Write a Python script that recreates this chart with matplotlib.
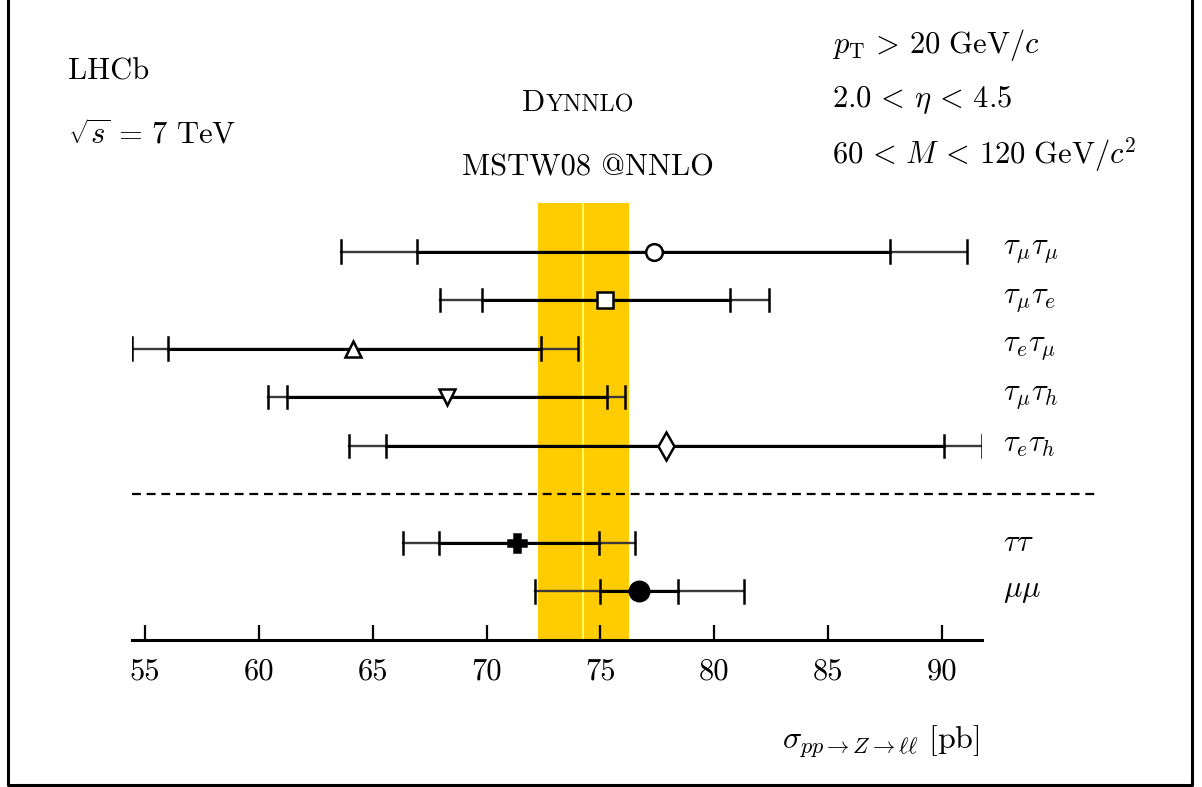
import matplotlib
matplotlib.use('Agg')
import matplotlib.pyplot as plt
from matplotlib.lines import Line2D

plt.rcParams['mathtext.fontset'] = 'cm'
plt.rcParams['font.family'] = 'serif'
plt.rcParams['font.serif'] = ['cmr10', 'DejaVu Serif']
plt.rcParams['axes.formatter.use_mathtext'] = True

# channel measurements (pb): central, inner (stat) error edges, outer (total) error edges
labels = [r'$\mu\mu$', r'$\tau\tau$', r'$\tau_e\tau_h$', r'$\tau_\mu\tau_h$',
          r'$\tau_e\tau_\mu$', r'$\tau_\mu\tau_e$', r'$\tau_\mu\tau_\mu$']
rows = [1, 2, 4, 5, 6, 7, 8]
central = [76.7, 71.35, 77.9, 68.25, 64.15, 75.2, 77.35]
inner_lo = [75.0, 67.9, 65.6, 61.25, 56.0, 69.8, 66.95]
inner_hi = [78.4, 74.95, 90.1, 75.3, 72.4, 80.7, 87.7]
outer_lo = [72.15, 66.35, 63.95, 60.4, 54.45, 67.95, 63.6]
outer_hi = [81.3, 76.5, 91.75, 76.1, 74.0, 82.4, 91.1]
markers = ['o', 'P', 'd', 'v', '^', 's', 'o']
filled = [True, True, False, False, False, False, False]
msizes = [14, 13, 14, 12, 12, 11, 12]

# theory prediction band
theory = 74.25
theory_lo, theory_hi = 72.25, 76.25

ticks = [55, 60, 65, 70, 75, 80, 85, 90]

fig = plt.figure(figsize=(12.02, 7.87), dpi=100)
ax = fig.add_axes([132 / 1202, 147 / 787, 850 / 1202, 437 / 787])
ax.set_xlim(54.43, 91.76)
ax.set_ylim(0, 9)

ax.axvspan(theory_lo, theory_hi, color='#FFCC00', lw=0, zorder=0)
ax.axvline(theory, color='#FFFF66', lw=1.3, zorder=1)

for i in range(len(rows)):
    y = rows[i]
    ax.plot([outer_lo[i], outer_hi[i]], [y, y], color='#3a3a3a', lw=1.7, zorder=2)
    ax.plot([inner_lo[i], inner_hi[i]], [y, y], color='black', lw=2.2, zorder=3)
    for xe in [outer_lo[i], outer_hi[i], inner_lo[i], inner_hi[i]]:
        ax.plot([xe, xe], [y - 0.23, y + 0.23], color='black', lw=1.8, zorder=3)
    fc = 'black' if filled[i] else 'white'
    ax.plot(central[i], y, marker=markers[i], ms=msizes[i], mfc=fc, mec='black',
            mew=1.8, zorder=5, clip_on=False)
    yfig = (147 + y * 437 / 9) / 787
    fig.text(1003 / 1202, yfig, labels[i], fontsize=22, va='center', ha='left')

# separator between single channels and combinations
fig.add_artist(Line2D([132 / 1202, 1100 / 1202], [(147 + 3 * 437 / 9) / 787] * 2,
                      color='black', lw=1.6, ls=(0, (4, 2.6))))

for s in ['top', 'left', 'right']:
    ax.spines[s].set_visible(False)
ax.spines['bottom'].set_linewidth(2.2)
ax.set_yticks([])
ax.set_xticks(ticks)
ax.set_xticklabels([str(t) for t in ticks])
ax.tick_params(axis='x', direction='in', length=11, width=1.6, labelsize=22, pad=13)

fig.text(980 / 1202, 45 / 787, r'$\sigma_{pp\to Z\to\ell\ell}\ \mathrm{[pb]}$',
         fontsize=23, ha='right', va='center')

# top annotations
fs = 22
fig.text(68 / 1202, 1 - 72 / 787, 'LHCb', fontsize=fs, va='center', ha='left')
fig.text(68 / 1202, 1 - 135 / 787, r'$\sqrt{s}\,=\,7\ \mathrm{TeV}$', fontsize=fs,
         va='center', ha='left')
t1 = fig.text(522 / 1202, 1 - 103 / 787, 'D', fontsize=fs, va='center', ha='left')
ax.annotate('YNNLO', xy=(1, 0), xycoords=t1, xytext=(0.5, 0), textcoords='offset points',
            fontsize=17.5, va='bottom', ha='left', annotation_clip=False)
fig.text(588 / 1202, 1 - 168 / 787, 'MSTW08 @NNLO', fontsize=fs, va='center', ha='center')
fig.text(832 / 1202, 1 - 45 / 787, r'$p_{\mathrm{T}} \,>\, 20\ \mathrm{GeV}/c$',
         fontsize=fs, va='center', ha='left')
fig.text(832 / 1202, 1 - 100 / 787, r'$2.0 \,<\, \eta \,<\, 4.5$', fontsize=fs,
         va='center', ha='left')
fig.text(832 / 1202, 1 - 155 / 787, r'$60 \,<\, M \,<\, 120\ \mathrm{GeV}/c^2$',
         fontsize=fs, va='center', ha='left')

# outer frame (left, right, bottom)
fx = [8 / 1202, 8 / 1202, 1192 / 1202, 1192 / 1202]
fy = [1.0, 2 / 787, 2 / 787, 1.0]
fig.add_artist(Line2D(fx, fy, color='black', lw=2.2))

fig.savefig('out.png', dpi=100)
